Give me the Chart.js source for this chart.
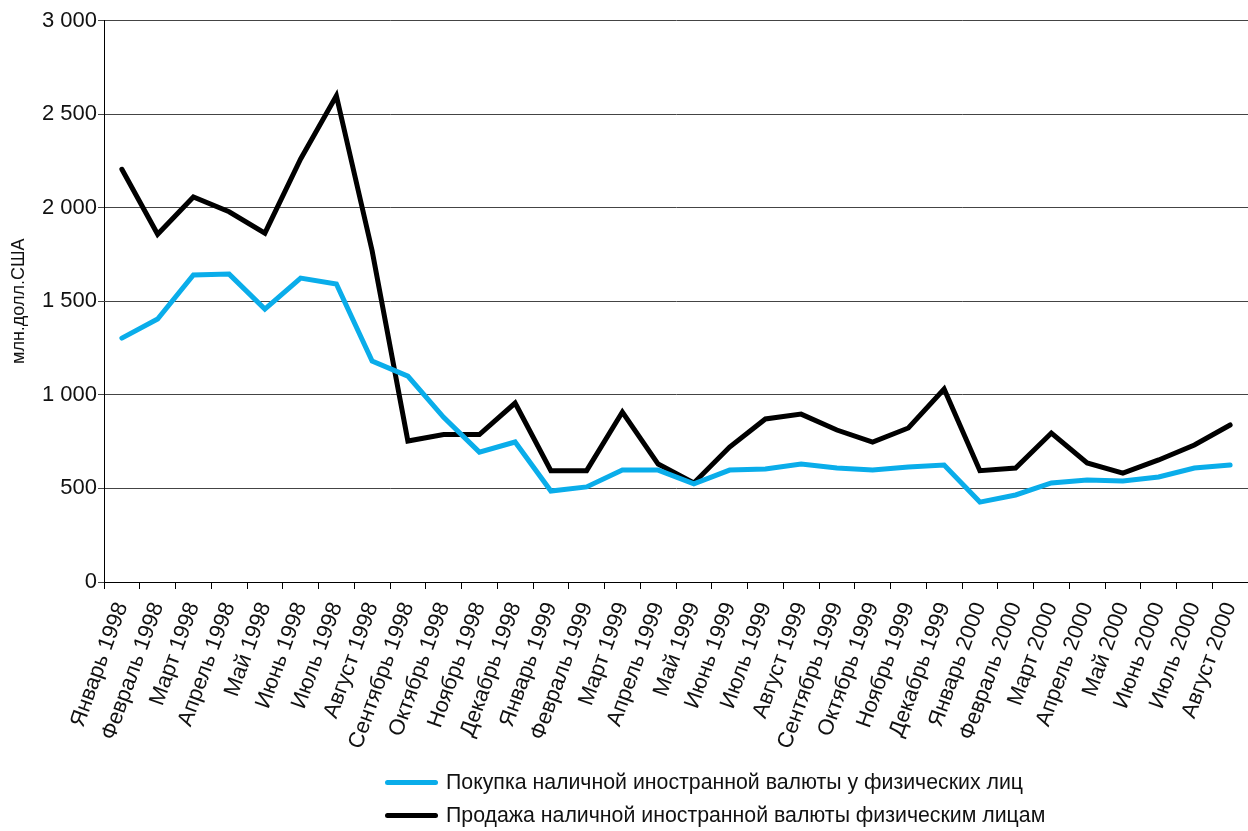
<!DOCTYPE html>
<html>
<head>
<meta charset="utf-8">
<script src="https://cdn.jsdelivr.net/npm/chart.js@4"></script>
<style>
  html, body { margin: 0; padding: 0; background: #fff; }
  #wrap { position: relative; width: 1248px; height: 831px; }
  #legend { position: absolute; left: 385px; top: 766px; font-family: "Liberation Sans", Arial, sans-serif; font-size: 21.3px; color: #111; }
  .item { display: flex; align-items: center; height: 33px; }
  .swatch { width: 53px; height: 5px; border-radius: 3px; margin-right: 8px; }
</style>
</head>
<body>
<div id="wrap">
  <canvas id="c" width="1248" height="831"></canvas>
  <div id="legend"></div>
</div>
<script>
const categories = [
  "Январь 1998","Февраль 1998","Март 1998","Апрель 1998","Май 1998","Июнь 1998",
  "Июль 1998","Август 1998","Сентябрь 1998","Октябрь 1998","Ноябрь 1998","Декабрь 1998",
  "Январь 1999","Февраль 1999","Март 1999","Апрель 1999","Май 1999","Июнь 1999",
  "Июль 1999","Август 1999","Сентябрь 1999","Октябрь 1999","Ноябрь 1999","Декабрь 1999",
  "Январь 2000","Февраль 2000","Март 2000","Апрель 2000","Май 2000","Июнь 2000",
  "Июль 2000","Август 2000"
];
const purchaseLabel = "Покупка наличной иностранной валюты у физических лиц";
const saleLabel = "Продажа наличной иностранной валюты физическим лицам";
const purchase = [
  1303, 1405, 1640, 1645, 1458, 1624, 1592, 1180, 1100, 880, 694, 748,
  486, 508, 598, 598, 524, 598, 604, 630, 609, 598, 614, 625,
  427, 465, 529, 545, 540, 561, 609, 625
];
const sale = [
  2205, 1858, 2057, 1978, 1864, 2260, 2598, 1770, 753, 788, 788, 956,
  595, 595, 908, 630, 529, 721, 871, 897, 812, 748, 823, 1031,
  595, 609, 796, 636, 582, 652, 732, 839
];
const yTicks = [0, 500, 1000, 1500, 2000, 2500, 3000];
const yTitle = "млн.долл.США";

const FONT = "'Liberation Sans', Arial, sans-serif";
const fmt = v => String(v).replace(/\B(?=(\d{3})+(?!\d))/g, " ");

const chart = new Chart(document.getElementById("c"), {
  type: "line",
  data: {
    labels: categories,
    datasets: [
      { label: purchaseLabel, data: purchase, borderColor: "#0AADEA", backgroundColor: "#0AADEA",
        borderWidth: 5, pointRadius: 0, tension: 0, borderCapStyle: "round", borderJoinStyle: "miter" },
      { label: saleLabel, data: sale, borderColor: "#000000", backgroundColor: "#000000",
        borderWidth: 5, pointRadius: 0, tension: 0, borderCapStyle: "round", borderJoinStyle: "miter" }
    ]
  },
  options: {
    responsive: false,
    animation: false,
    layout: { padding: { left: 0, right: 0, top: 20.5, bottom: 79 } },
    plugins: { legend: { display: false }, tooltip: { enabled: false } },
    scales: {
      x: {
        type: "category",
        offset: true,
        afterFit: s => { s.height = 170; s.paddingLeft = 0; s.paddingRight = 0; },
        grid: { offset: true, drawOnChartArea: false, drawTicks: true, tickLength: 7, color: "#000", lineWidth: 1 },
        border: { color: "#000", width: 1 },
        ticks: { color: "#111", font: { family: FONT, size: 22 }, minRotation: 70, maxRotation: 70, autoSkip: false, padding: 10 }
      },
      y: {
        min: 0, max: 3000,
        afterFit: s => { s.width = 104; s.paddingTop = 0; s.paddingBottom = 0; },
        afterBuildTicks: axis => { axis.ticks = yTicks.map(v => ({ value: v })); },
        grid: { color: "#444", lineWidth: 1, drawTicks: true, tickLength: 6 },
        border: { color: "#000", width: 1 },
        ticks: { color: "#111", font: { family: FONT, size: 22 }, padding: 1, callback: v => fmt(v) },
        title: { display: true, text: yTitle, color: "#111", font: { family: FONT, size: 18 }, padding: 8 }
      }
    }
  }
});

const lg = document.getElementById("legend");
chart.data.datasets.forEach(ds => {
  const row = document.createElement("div");
  row.className = "item";
  const sw = document.createElement("div");
  sw.className = "swatch";
  sw.style.background = ds.borderColor;
  const t = document.createElement("span");
  t.textContent = ds.label;
  row.appendChild(sw); row.appendChild(t);
  lg.appendChild(row);
});
</script>
</body>
</html>
